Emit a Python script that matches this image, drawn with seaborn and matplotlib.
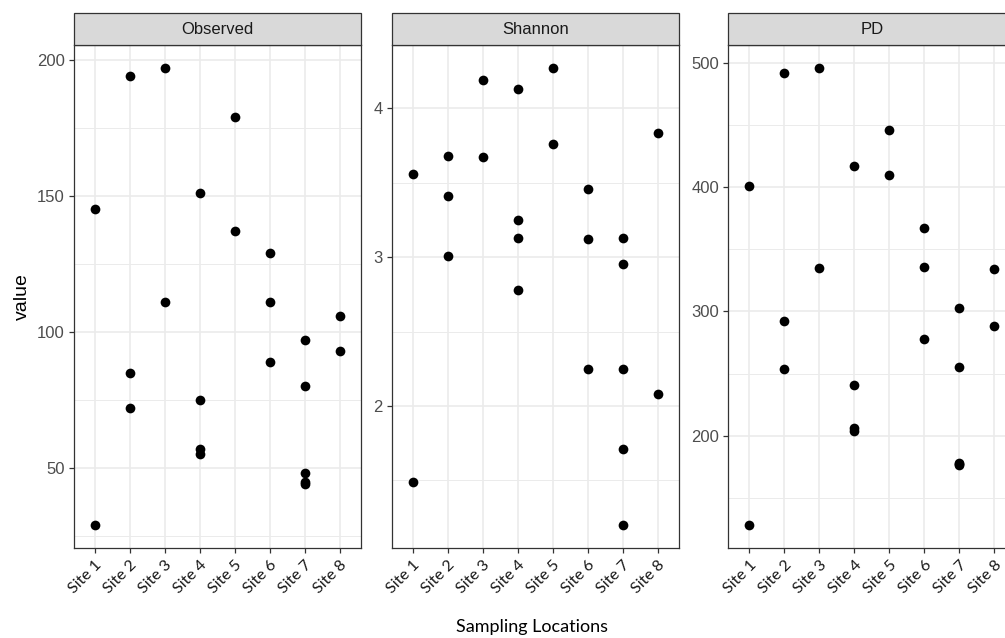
import matplotlib
matplotlib.use("Agg")
import numpy as np
import pandas as pd
import matplotlib.pyplot as plt
from matplotlib.patches import Rectangle
from matplotlib.ticker import MultipleLocator, AutoMinorLocator
import seaborn as sns

sites = ['Site 1', 'Site 2', 'Site 3', 'Site 4', 'Site 5', 'Site 6', 'Site 7', 'Site 8']
metrics = ['Observed', 'Shannon', 'PD']

# site of each sample (same order for all three metrics)
sample_site = (['Site 1'] * 2 + ['Site 2'] * 3 + ['Site 3'] * 2 + ['Site 4'] * 4 +
               ['Site 5'] * 2 + ['Site 6'] * 3 + ['Site 7'] * 5 + ['Site 8'] * 2)

observed = [145, 29, 194, 85, 72, 197, 111, 151, 75, 57, 55, 179, 137,
            129, 111, 89, 97, 80, 48, 45, 44, 106, 93]
shannon = [3.56, 1.49, 3.68, 3.41, 3.01, 4.19, 3.67, 4.13, 3.25, 3.13, 2.78,
           4.27, 3.76, 3.46, 3.12, 2.25, 3.13, 2.95, 2.25, 1.71, 1.20, 3.83, 2.08]
pd_values = [401, 128, 492, 292, 254, 496, 335, 417, 241, 206, 204, 446, 410,
             367, 336, 278, 303, 255, 178, 177, 176, 334, 288]

major_steps = {'Observed': 50, 'Shannon': 1, 'PD': 100}

df = pd.concat([
    pd.DataFrame({'site': sample_site, 'metric': 'Observed', 'value': observed}),
    pd.DataFrame({'site': sample_site, 'metric': 'Shannon', 'value': shannon}),
    pd.DataFrame({'site': sample_site, 'metric': 'PD', 'value': pd_values}),
])

sns.set_style("white")
plt.rcParams['font.family'] = ['Liberation Sans', 'DejaVu Sans']

W, H = 1005, 638
fig = plt.figure(figsize=(W / 100, H / 100), dpi=100)

panel_left = [74, 391.7, 728.3]
panel_w = 287
panel_top, panel_bottom = 45, 548
strip_h = 32
edge = '#333333'

for left, metric in zip(panel_left, metrics):
    ax = fig.add_axes([left / W, (H - panel_bottom) / H, panel_w / W,
                       (panel_bottom - panel_top) / H])
    sub = df[df['metric'] == metric]
    sns.stripplot(data=sub, x='site', y='value', order=sites, jitter=False,
                  color='black', size=7, linewidth=0, ax=ax, zorder=3)

    lo, hi = sub['value'].min(), sub['value'].max()
    pad = 0.05 * (hi - lo)
    ax.set_ylim(lo - pad, hi + pad)
    ax.set_xlim(-0.6, len(sites) - 0.4)

    ax.yaxis.set_major_locator(MultipleLocator(major_steps[metric]))
    ax.yaxis.set_minor_locator(AutoMinorLocator(2))
    ax.set_axisbelow(True)
    ax.grid(True, which='major', color='#EBEBEB', lw=1.2)
    ax.grid(True, which='minor', axis='y', color='#EBEBEB', lw=0.7)
    ax.set_xlabel('')
    ax.set_ylabel('')

    for s in ax.spines.values():
        s.set_color(edge)
        s.set_linewidth(0.9)
        s.set_visible(True)

    ax.tick_params(axis='both', which='major', length=3.6, width=0.9,
                   color=edge, direction='out', bottom=True, left=True)
    ax.tick_params(axis='y', which='minor', length=0)
    ax.tick_params(axis='y', labelsize=12, labelcolor='#4D4D4D', pad=3)
    ax.tick_params(axis='x', labelsize=11.5, labelcolor='#1A1A1A', pad=3.5)
    for lab in ax.get_xticklabels():
        lab.set_rotation(45)
        lab.set_rotation_mode('anchor')
        lab.set_ha('right')
        lab.set_va('top')
        lab.set_family(['Lato', 'DejaVu Sans'])

    # facet strip
    sh = strip_h / (panel_bottom - panel_top)
    ax.add_patch(Rectangle((0, 1), 1, sh, transform=ax.transAxes, clip_on=False,
                           facecolor='#D9D9D9', edgecolor=edge, lw=0.9, zorder=5))
    ax.text(0.5, 1 + sh / 2, metric, transform=ax.transAxes, ha='center',
            va='center', fontsize=12, color='#1A1A1A', zorder=6)

fig.text(22 / W, 1 - 297 / H, 'value', rotation=90, ha='center', va='center',
         fontsize=14, color='black')
fig.text(532 / W, 1 - 627 / H, 'Sampling Locations', ha='center', va='center',
         fontsize=13, color='black', family=['Lato', 'DejaVu Sans'])

fig.savefig('out.png', dpi=100)
